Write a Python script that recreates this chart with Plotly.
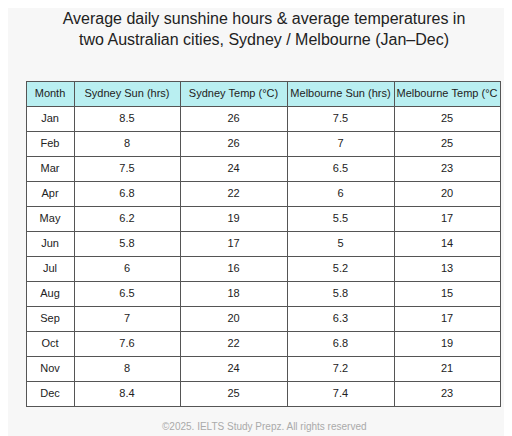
import plotly.graph_objects as go

headers = ["Month", "Sydney Sun (hrs)", "Sydney Temp (°C)", "Melbourne Sun (hrs)", "Melbourne Temp (°C"]
months = ["Jan","Feb","Mar","Apr","May","Jun","Jul","Aug","Sep","Oct","Nov","Dec"]
sydney_sun = ["8.5","8","7.5","6.8","6.2","5.8","6","6.5","7","7.6","8","8.4"]
sydney_temp = [26,26,24,22,19,17,16,18,20,22,24,25]
melb_sun = ["7.5","7","6.5","6","5.5","5","5.2","5.8","6.3","6.8","7.2","7.4"]
melb_temp = [25,25,23,20,17,14,13,15,17,19,21,23]

W, H = 512, 436
fig = go.Figure(go.Table(
    domain=dict(x=[18/W, 492/W], y=[1-410/H, 1-73/H]),
    columnwidth=[48,106,107,107,106],
    header=dict(values=[h.replace(" ", "\u00a0") for h in headers], fill_color="#b9eff1",
                line_color="#555555", line_width=1,
                font=dict(family="Liberation Sans, Arial", size=11, color="#222222"),
                align="center", height=25),
    cells=dict(values=[months, sydney_sun, sydney_temp, melb_sun, melb_temp],
               fill_color="white", line_color="#555555", line_width=1,
               font=dict(family="Liberation Sans, Arial", size=11, color="#222222"),
               align="center", height=25),
))
fig.update_layout(
    width=W, height=H, margin=dict(l=0, r=0, t=0, b=0),
    paper_bgcolor="#f7f7f7",
    title=dict(text="Average daily sunshine hours & average temperatures in<br>two Australian cities, Sydney / Melbourne (Jan–Dec)",
               x=0.5, xanchor="center", y=1-16/H, yanchor="top",
               font=dict(family="Liberation Sans, Arial", size=16, color="#222222")),
    annotations=[dict(text="©2025. IELTS Study Prepz. All rights reserved", x=0.5, y=1-418/H,
                      xref="paper", yref="paper", yanchor="middle", showarrow=False,
                      font=dict(family="Liberation Sans, Arial", size=10, color="#aaaaaa"))],
)
fig.write_html("out.html")
